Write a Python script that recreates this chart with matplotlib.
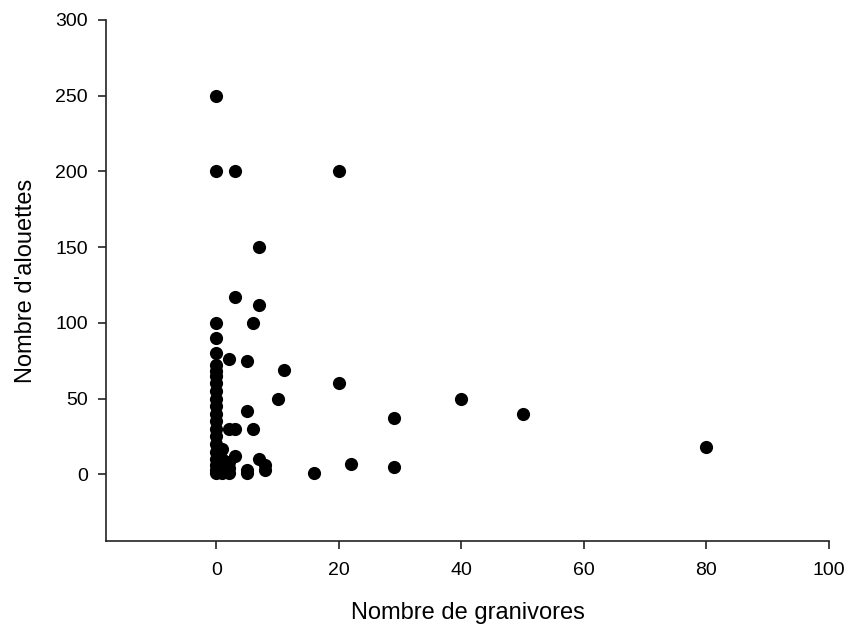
import numpy as np
import matplotlib.pyplot as plt

plt.rcParams['font.family'] = ['Liberation Sans', 'DejaVu Sans']

# granivores (x) vs alouettes (y)
granivores = [0, 0, 0, 0, 0, 0, 0, 0, 0, 0, 0, 0, 0, 0, 0, 0, 0, 0, 0, 0, 0, 0,
              1, 1, 1, 1, 1,
              2, 2, 2, 2, 2,
              3, 3, 3, 3,
              5, 5, 5, 5,
              6, 6,
              7, 7, 7,
              8, 8,
              10, 11, 16, 20, 20, 22, 29, 29, 40, 50, 80]
alouettes = [250, 200, 100, 90, 80, 72, 68, 65, 60, 55, 50, 45, 40, 35, 30, 25, 20, 15, 10, 6, 3, 1,
             17, 10, 5, 3, 1,
             76, 30, 8, 4, 1,
             200, 117, 30, 12,
             75, 42, 3, 1,
             100, 30,
             150, 112, 10,
             6, 3,
             50, 69, 1, 200, 60, 7, 37, 5, 50, 40, 18]

fig = plt.figure(figsize=(8.48, 6.24), dpi=100)
ax = fig.add_axes([0.125, 0.133, 0.8526, 0.835])

ax.scatter(granivores, alouettes, s=90, color='black', zorder=3, linewidths=0)

ax.set_xlim(-18, 100)
ax.set_ylim(-44, 300)
ax.set_xticks(np.arange(0, 101, 20))
ax.set_yticks(np.arange(0, 301, 50))

for side in ['top', 'right']:
    ax.spines[side].set_visible(False)
for side in ['left', 'bottom']:
    ax.spines[side].set_linewidth(1.2)
    ax.spines[side].set_color('#222222')
ax.tick_params(direction='out', length=6, width=1.2, labelsize=14, color='#222222')
ax.tick_params(axis='x', pad=9)
ax.tick_params(axis='y', pad=7)

ax.set_xlabel('Nombre de granivores', fontsize=17)
ax.set_ylabel("Nombre d'alouettes", fontsize=17)
ax.xaxis.set_label_coords(0.5, -0.118)
ax.yaxis.set_label_coords(-0.095, 0.5)

fig.savefig('out.png', dpi=100)
